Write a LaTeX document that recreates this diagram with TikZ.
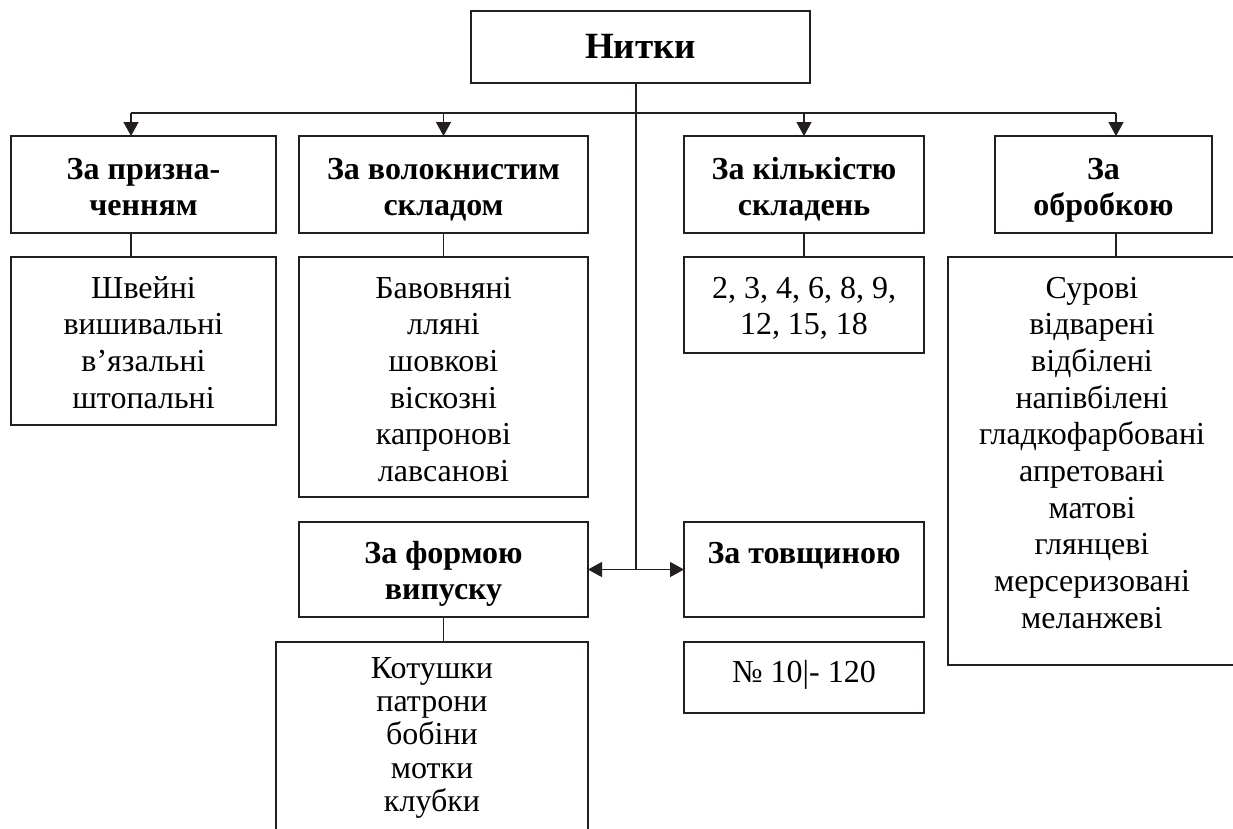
\documentclass[tikz,border=0pt]{standalone}
\usepackage{fontspec}
\setmainfont{Liberation Serif}
\usetikzlibrary{arrows.meta}
\definecolor{ink}{RGB}{35,31,32}
\newcommand{\boxtext}[4]{\parbox[c][#2][t]{#1}{\centering\fontsize{32}{36.7}\selectfont\rule{0pt}{#3}#4\par}}
\begin{document}
\begin{tikzpicture}[x=1pt,y=-1pt,
  box/.style={draw=ink, line width=1.4pt, inner sep=0pt, outer sep=0pt, text=black},
  conn/.style={draw=ink, line width=1.3pt},
  arr/.style={conn, -{Triangle[length=14pt,width=15pt]}}]
\useasboundingbox (0,0) rectangle (1233,828);
\clip (0,0) rectangle (1233,828);
\fill[white] (0,0) rectangle (1233,828);
% header row
\node[box] (root) at (640.5,47) {\boxtext{339pt}{72pt}{47pt}{\fontsize{37}{40}\selectfont\bfseries Нитки}};
\node[box] (b1) at (143.5,184.5) {\boxtext{265pt}{97pt}{43pt}{\bfseries За призна-\\ченням}};
\node[box] (b2) at (443.5,184.5) {\boxtext{289pt}{97pt}{43pt}{\bfseries За волокнистим\\складом}};
\node[box] (b3) at (804,184.5) {\boxtext{240pt}{97pt}{43pt}{\bfseries За кількістю\\складень}};
\node[box] (b4) at (1103.5,184.5) {\boxtext{217pt}{97pt}{43pt}{\bfseries За\\обробкою}};
% content row
\node[box] (c1) at (143.5,341) {\boxtext{265pt}{168pt}{41pt}{Швейні\\вишивальні\\в’язальні\\штопальні}};
\node[box] (c2) at (443.5,377) {\boxtext{289pt}{240pt}{41pt}{Бавовняні\\лляні\\шовкові\\віскозні\\капронові\\лавсанові}};
\node[box] (c3) at (804,305) {\boxtext{240pt}{96pt}{41pt}{2, 3, 4, 6, 8, 9,\\12, 15, 18}};
\node[box] (c4) at (1092,461) {\boxtext{288pt}{408pt}{41pt}{Сурові\\відварені\\відбілені\\напівбілені\\гладкофарбовані\\апретовані\\матові\\глянцеві\\мерсеризовані\\меланжеві}};
% lower row
\node[box] (b5) at (443.5,569.5) {\boxtext{289pt}{95pt}{41pt}{\bfseries За формою\\випуску}};
\node[box] (b6) at (804,569.5) {\boxtext{240pt}{95pt}{41pt}{\bfseries За товщиною}};
\node[box] (c5) at (432,761) {\boxtext{312pt}{238pt}{36pt}{\setlength{\baselineskip}{33.4pt}Котушки\\патрони\\бобіни\\мотки\\клубки}};
\node[box] (c6) at (804,677.5) {\boxtext{240pt}{71pt}{40pt}{№ 10|- 120}};
% connectors
\coordinate (busL) at (131,113);
\coordinate (busR) at (1116,113);
\coordinate (tj) at (636,569.5);
\draw[conn] (root.south -| tj) -- (tj);
\draw[conn] (busL) -- (busR);
\draw[arr] (busL) -- (busL |- b1.north);
\draw[arr] (b2.north |- busL) -- (b2.north);
\draw[arr] (b3.north |- busL) -- (b3.north);
\draw[arr] (busR) -- (busR |- b4.north);
\draw[conn] (b1.south -| busL) -- (c1.north -| busL);
\draw[conn] (b2.south) -- (c2.north);
\draw[conn] (b3.south) -- (c3.north);
\draw[conn] (b4.south -| busR) -- (c4.north -| busR);
\draw[conn] (b5.south) -- (b5.south |- c5.north);
\draw[arr] (tj) -- (b5.east);
\draw[arr] (tj) -- (b6.west);
\end{tikzpicture}
\end{document}
